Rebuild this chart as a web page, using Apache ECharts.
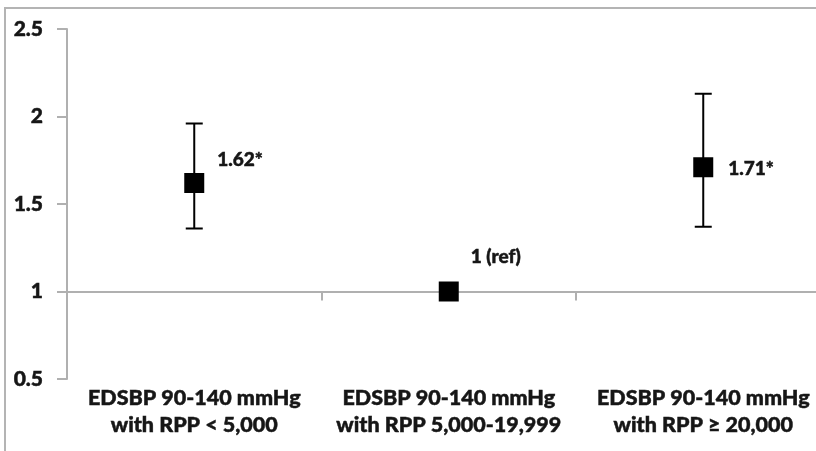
<!DOCTYPE html>
<html>
<head>
<meta charset="utf-8">
<script src="https://cdn.jsdelivr.net/npm/echarts@6/dist/echarts.min.js"></script>
<style>
html,body{margin:0;padding:0;background:#fff;}
#chart{width:816px;height:451px;}
</style>
</head>
<body>
<div id="chart"></div>
<script>
const categories = [
  'EDSBP 90-140 mmHg\nwith RPP < 5,000',
  'EDSBP 90-140 mmHg\nwith RPP 5,000-19,999',
  'EDSBP 90-140 mmHg\nwith RPP \u2265 20,000'
];
const oddsRatios = [1.62, 1, 1.71];
const ciLower = [1.36, null, 1.37];
const ciUpper = [1.96, null, 2.13];
const pointLabels = ['1.62*', '1 (ref)', '1.71*'];
const yMin = 0.5, yMax = 2.5, yInterval = 0.5;
const referenceValue = 1;

const gridTop = 29, gridBottom = 72, chartHeight = 451;
const gridHeight = chartHeight - gridTop - gridBottom;
const refOffset = -((referenceValue - yMin) / (yMax - yMin)) * gridHeight;

const axisGray = '#b0b0b0';
const textColor = '#161616';
const fontFamily = 'Lato, "Noto Sans", sans-serif';
const heavy = {fontWeight: 900, textBorderColor: '#161616', textBorderWidth: 0.5};

const labelTweaks = [
  {distance: 13, offset: [0, -23]},
  {distance: 12, offset: [0, -35]},
  {distance: 15, offset: [0, 2]}
];

const errData = [];
ciLower.forEach((lo, i) => { if (lo != null) errData.push([i, lo, ciUpper[i]]); });

const chart = echarts.init(document.getElementById('chart'), null, {renderer: 'canvas'});
chart.setOption({
  animation: false,
  backgroundColor: '#fff',
  graphic: [{
    type: 'rect', silent: true, z: -10,
    shape: {x: 5, y: 8, width: 900, height: 600},
    style: {fill: 'none', stroke: '#b4b4b4', lineWidth: 2}
  }],
  grid: {left: 67, width: 763.5, top: gridTop, bottom: gridBottom, containLabel: false, outerBoundsMode: 'none'},
  xAxis: [{
    type: 'category', data: categories, position: 'bottom', boundaryGap: true,
    axisLine: {show: false}, axisTick: {show: false}, splitLine: {show: false},
    axisLabel: Object.assign({
      interval: 0, margin: 6, fontSize: 21.5, lineHeight: 27,
      color: textColor, fontFamily: fontFamily
    }, heavy)
  }, {
    type: 'category', data: categories, position: 'bottom', offset: refOffset, boundaryGap: true,
    axisLine: {show: true, lineStyle: {color: axisGray, width: 2}},
    axisTick: {show: true, length: 9, interval: 0, lineStyle: {color: axisGray, width: 2}},
    axisLabel: {show: false}, splitLine: {show: false}
  }],
  yAxis: {
    type: 'value', min: yMin, max: yMax, interval: yInterval,
    axisLine: {show: true, lineStyle: {color: axisGray, width: 2}},
    axisTick: {show: true, length: 10, lineStyle: {color: axisGray, width: 2}},
    splitLine: {show: false},
    axisLabel: Object.assign({margin: 24, fontSize: 21, color: textColor, fontFamily: fontFamily}, heavy)
  },
  series: [{
    type: 'custom', xAxisIndex: 0, yAxisIndex: 0, z: 2,
    data: errData,
    renderItem: function (params, api) {
      const lo = api.coord([api.value(0), api.value(1)]);
      const hi = api.coord([api.value(0), api.value(2)]);
      const half = 8.5;
      const st = {stroke: '#000', lineWidth: 2};
      return {type: 'group', children: [
        {type: 'line', shape: {x1: lo[0], y1: lo[1], x2: hi[0], y2: hi[1]}, style: st},
        {type: 'line', shape: {x1: hi[0] - half, y1: hi[1], x2: hi[0] + half, y2: hi[1]}, style: st},
        {type: 'line', shape: {x1: lo[0] - half, y1: lo[1], x2: lo[0] + half, y2: lo[1]}, style: st}
      ]};
    }
  }, {
    type: 'scatter', xAxisIndex: 0, yAxisIndex: 0, z: 5,
    symbol: 'rect', symbolSize: 20,
    itemStyle: {color: '#000', opacity: 1},
    data: oddsRatios.map((v, i) => ({
      value: v,
      label: Object.assign({
        show: true, position: 'right', distance: labelTweaks[i].distance, offset: labelTweaks[i].offset,
        formatter: pointLabels[i], fontSize: 19, color: textColor, fontFamily: fontFamily
      }, heavy)
    }))
  }]
});
</script>
</body>
</html>
